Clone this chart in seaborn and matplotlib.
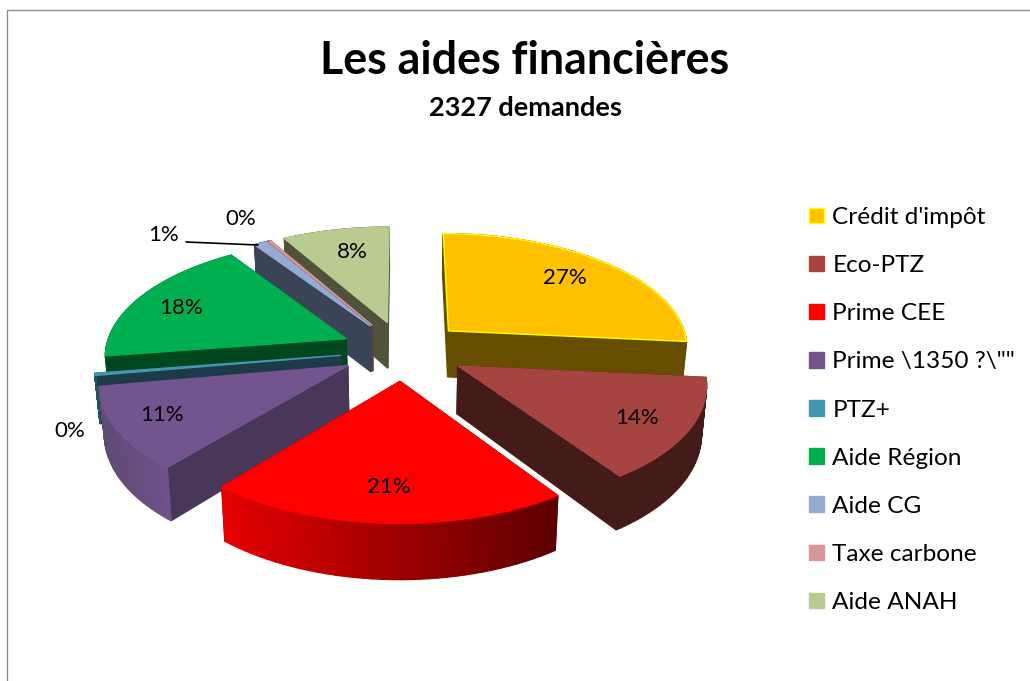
import numpy as np
import matplotlib
matplotlib.use("Agg")
import matplotlib.pyplot as plt
import matplotlib.colors as mcolors
from matplotlib.patches import Polygon, Patch
from matplotlib.transforms import Transform
import seaborn as sns

# valeurs (%)
labels = ["Crédit d'impôt", "Eco-PTZ", "Prime CEE", 'Prime \\1350 ?\\""', "PTZ+",
          "Aide Région", "Aide CG", "Taxe carbone", "Aide ANAH"]
values = [26.6, 14.0, 20.6, 11.3, 0.3, 18.0, 1.0, 0.2, 8.3]

top_colors = ["#FFC000", "#A64442", "#FF0000", "#72558E", "#4198AF",
              "#00B050", "#95ABD2", "#D99694", "#BACB91"]
side_colors = ["#664D00", "#451B1A", "#5C0000", "#483758", "#1C3A47",
               "#00461F", "#3B4357", "#5A3F3E", "#4E5339"]
# couleur du bord extérieur, de gauche à droite
rim_left = ["#664D00", "#451B1A", "#E60000", "#5E4A75", "#1C5A60",
            "#00461F", "#3B4357", "#5A3F3E", "#4E5339"]
rim_right = ["#664D00", "#451B1A", "#5C0000", "#6E5289", "#1C3A47",
             "#00461F", "#3B4357", "#5A3F3E", "#4E5339"]
draw_order = [0, 8, 7, 6, 5, 4, 3, 1, 2]

# percent labels (x, y en pixels)
pct_xy = [(565, 278), (637, 418), (389, 487), (162, 415), (70, 431),
          (181, 308), (164, 235), (241, 219), (352, 252)]

# camera
CX, CY, A, B, P = 403.0, 350.5, 246.0, 117.0, 0.133
EXPLODE = 0.25
RADIUS = 0.98
DEPTH = 47.0
SHRINK = 0.983


def project(u, v, low=0.0):
    u, v = np.asarray(u, float), np.asarray(v, float)
    w = 1 + P * v
    x = CX + (A * u / w) * (1 - (1 - SHRINK) * low)
    y = CY - B * v / w + low * DEPTH / w
    return np.column_stack([x, y])


class PieView(Transform):
    input_dims = 2
    output_dims = 2
    is_separable = False

    def transform_non_affine(self, values):
        values = np.asarray(values)
        return project(values[:, 0], values[:, 1])


sns.set_theme(style="white")
plt.rcParams["font.family"] = ["Lato", "DejaVu Sans"]

fig = plt.figure(figsize=(10.3, 6.81), dpi=100, facecolor="white")
ax = fig.add_axes([0, 0, 1, 1])

palette = sns.color_palette(top_colors)
wedges, _ = ax.pie(values, explode=[EXPLODE / RADIUS] * len(values), colors=palette,
                   startangle=90, counterclock=False, radius=RADIUS,
                   wedgeprops={"linewidth": 0})

ax.set_aspect("auto")
ax.set_xlim(0, 1030)
ax.set_ylim(681, 0)
ax.axis("off")

view = PieView() + ax.transData


def side(pts_u, pts_v, color, z):
    upper = project(pts_u, pts_v, 0)
    lower = project(pts_u, pts_v, 1)
    poly = np.vstack([upper, lower[::-1]])
    ax.add_patch(Polygon(poly, closed=True, facecolor=color, edgecolor=color, linewidth=1.0, zorder=z))


for rank, i in enumerate(draw_order):
    wd = wedges[i]
    cu, cv = wd.center
    th = np.radians(np.linspace(wd.theta1, wd.theta2, 40))
    au = cu + wd.r * np.cos(th)
    av = cv + wd.r * np.sin(th)
    base = 10 + rank * 2

    # back walls first
    parts = [([cu, au[0]], [cv, av[0]], side_colors[i]),
             ([cu, au[-1]], [cv, av[-1]], side_colors[i])]
    xs = project(au, av)[:, 0]
    c0 = np.array(mcolors.to_rgb(rim_left[i]))
    c1 = np.array(mcolors.to_rgb(rim_right[i]))
    for k in range(len(th) - 1):
        f = (0.5 * (xs[k] + xs[k + 1]) - xs.min()) / max(xs.max() - xs.min(), 1)
        parts.append(([au[k], au[k + 1]], [av[k], av[k + 1]], mcolors.to_hex(c0 + (c1 - c0) * f)))
    parts.sort(key=lambda p: -np.mean(p[1]))
    for pu, pv, col in parts:
        side(pu, pv, col, base)

    wd.set_transform(view)
    wd.set_zorder(base + 1)
    # same colour edge so the wall outline does not show around the top
    wd.set_edgecolor("#FFFF00" if i == 0 else top_colors[i])
    wd.set_linewidth(1.0)

for val, (x, y) in zip(values, pct_xy):
    ax.text(x, y, f"{val:.0f}%", ha="center", va="center", fontsize=16, color="black", zorder=50)

# trait de rappel du 1%
ax.plot([186, 258], [242, 245], color="black", linewidth=1.2, zorder=50)

ax.text(525, 61, "Les aides financières", ha="center", va="center", fontsize=32.2,
        fontweight="bold", color="black")
ax.text(525, 108, "2327 demandes", ha="center", va="center", fontsize=19.5,
        fontweight="bold", color="black")

# cadre du graphique
ax.plot([7, 7, 1030], [681, 9.5, 9.5], color="#868686", linewidth=0.9, clip_on=False)

handles = [Patch(facecolor=c, edgecolor=("#FFFF00" if n == 0 else c), linewidth=1.0, label=l)
           for n, (c, l) in enumerate(zip(top_colors, labels))]
ax.legend(handles=handles, loc="upper left", bbox_to_anchor=(809 / 1030, 1 - 207 / 681),
          frameon=False, fontsize=17.6, handlelength=0.6, handleheight=0.6,
          labelspacing=1.11, handletextpad=0.36, borderpad=0, borderaxespad=0,
          labelcolor="black")

fig.savefig("out.png", dpi=100, facecolor="white")
